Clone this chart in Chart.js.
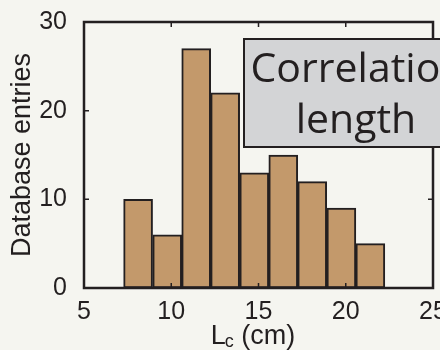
<!DOCTYPE html>
<html>
<head>
<meta charset="utf-8">
<script src="https://cdn.jsdelivr.net/npm/chart.js@4"></script>
<style>
  html, body { margin: 0; padding: 0; background: #f5f5f0; }
  #wrap { width: 440px; height: 350px; }
</style>
</head>
<body>
<div id="wrap"><canvas id="hist" width="440" height="350"></canvas></div>
<script>
// histogram bins (bin centres in cm) and counts
const binCenters = [8.1, 9.77, 11.43, 13.09, 14.76, 16.42, 18.08, 19.75, 21.41];
const counts     = [10, 6, 27, 22, 13, 15, 12, 9, 5];
const xTicks = [5, 10, 15, 20, 25];
const yTicks = [0, 10, 20, 30];
const yTitle = "Database entries";
const boxLines = ["Correlation", "length"];

const INK = "#231f20";
const SANS = "'Liberation Sans', Arial, sans-serif";
const TITLE_FONT = "27px " + SANS;
const SUB_FONT = "18px " + SANS;

// frame, inward ticks, x title with subscript, and the label box
const decor = {
  id: "decor",
  afterDatasetsDraw(c) {
    const { ctx, chartArea: a, scales: { x, y } } = c;
    ctx.save();
    ctx.strokeStyle = INK;
    ctx.lineWidth = 2.5;
    ctx.strokeRect(a.left, a.top, a.right - a.left, a.bottom - a.top);
    ctx.lineWidth = 1.5;
    xTicks.slice(1, -1).forEach(v => {
      const px = x.getPixelForValue(v);
      ctx.beginPath();
      ctx.moveTo(px, a.top); ctx.lineTo(px, a.top + 5);
      ctx.moveTo(px, a.bottom); ctx.lineTo(px, a.bottom - 5);
      ctx.stroke();
    });
    yTicks.slice(1, -1).forEach(v => {
      const py = y.getPixelForValue(v);
      ctx.beginPath();
      ctx.moveTo(a.left, py); ctx.lineTo(a.left + 5, py);
      ctx.moveTo(a.right, py); ctx.lineTo(a.right - 5, py);
      ctx.stroke();
    });

    // x title: L_c (cm)
    ctx.fillStyle = INK;
    ctx.textBaseline = "alphabetic";
    ctx.textAlign = "left";
    ctx.font = TITLE_FONT;
    const wL = ctx.measureText("L").width;
    ctx.font = SUB_FONT;
    const wc = ctx.measureText("c").width;
    ctx.font = TITLE_FONT;
    const wRest = ctx.measureText(" (cm)").width;
    const sx = x.getPixelForValue(15) - 4 - (wL + wc + wRest) / 2;
    const base = 344;
    ctx.fillText("L", sx - 1, base);
    ctx.font = SUB_FONT;
    ctx.fillText("c", sx + wL - 2, base + 3);
    ctx.font = TITLE_FONT;
    ctx.fillText(" (cm)", sx + wL + wc - 2, base);

    // label box
    ctx.fillStyle = "#d3d4d6";
    ctx.fillRect(244, 39, 230, 108);
    ctx.lineWidth = 2;
    ctx.strokeRect(244, 39, 230, 108);
    ctx.fillStyle = INK;
    ctx.textAlign = "center";
    ctx.font = "41px 'Open Sans', Lato, sans-serif";
    ctx.fillText(boxLines[0], 358, 82);
    ctx.fillText(boxLines[1], 356, 133);
    ctx.restore();
  }
};

new Chart(document.getElementById("hist"), {
  type: "bar",
  data: {
    datasets: [{
      data: binCenters.map((c, i) => ({ x: c, y: counts[i] })),
      backgroundColor: "#c3996b",
      borderColor: INK,
      borderWidth: 2,
      borderSkipped: false,
      barPercentage: 1,
      categoryPercentage: 1,
    }],
  },
  options: {
    responsive: false,
    animation: false,
    layout: { padding: { top: 22, right: 7, left: 0, bottom: 0 } },
    plugins: { legend: { display: false }, tooltip: { enabled: false } },
    scales: {
      x: {
        type: "linear",
        min: 5, max: 25,
        offset: false,
        grid: { display: false },
        border: { display: false },
        ticks: {
          stepSize: 5, color: INK, padding: 1,
          font: { family: SANS, size: 25 },
          maxRotation: 0,
        },
        afterFit: s => { s.height = 62; s.paddingLeft = 0; s.paddingRight = 0; },
      },
      y: {
        min: 0, max: 30,
        grid: { display: false },
        border: { display: false },
        ticks: {
          stepSize: 10, color: INK, padding: 9,
          font: { family: SANS, size: 25 },
        },
        title: {
          display: true, text: yTitle, color: INK, padding: { top: 6, bottom: 0 },
          font: { family: SANS, size: 27 },
        },
        afterFit: s => { s.width = 84; s.paddingTop = 0; s.paddingBottom = 0; },
      },
    },
  },
  plugins: [decor],
});
</script>
</body>
</html>
